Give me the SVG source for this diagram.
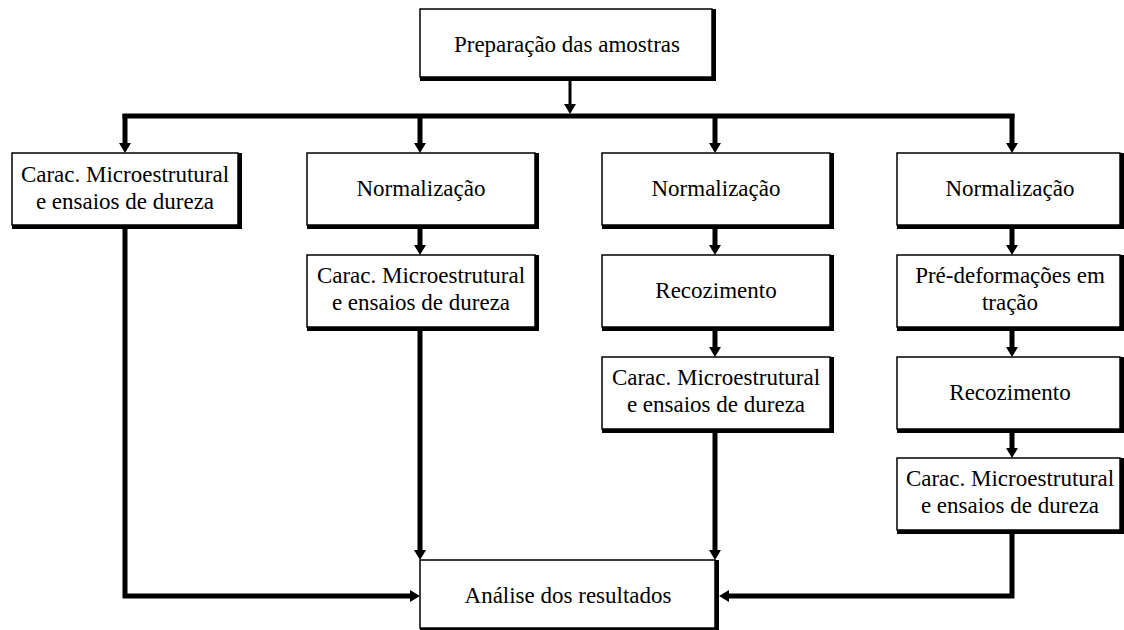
<svg xmlns="http://www.w3.org/2000/svg" width="1124" height="630" viewBox="0 0 1124 630">
<style>
.sh{fill:#000}
.bx{fill:#fff;stroke:#000;stroke-width:1.5}
.t{font-family:"Liberation Serif","Times New Roman",serif;font-size:23px;fill:#000;text-anchor:middle}
.c{fill:none;stroke:#000;stroke-width:5}
.c3{fill:none;stroke:#000;stroke-width:3}
</style>
<defs>
<marker id="ah" markerUnits="userSpaceOnUse" viewBox="0 0 10 12" markerWidth="10" markerHeight="12" refX="0" refY="6" orient="auto">
<path d="M0,0 L10,6 L0,12 Z" fill="#000"/>
</marker>
</defs>
<rect width="1124" height="630" fill="#fff"/>
<g id="connectors">
<path class="c3" d="M570,80 V104" marker-end="url(#ah)"/>
<path class="c" d="M122.5,116 H1014.5"/>
<path class="c" d="M125,114 V143" marker-end="url(#ah)"/>
<path class="c" d="M420,114 V143" marker-end="url(#ah)"/>
<path class="c" d="M715,114 V143" marker-end="url(#ah)"/>
<path class="c" d="M1012,114 V143" marker-end="url(#ah)"/>
<path class="c" d="M420,228 V245" marker-end="url(#ah)"/>
<path class="c" d="M715,228 V245" marker-end="url(#ah)"/>
<path class="c" d="M1012,228 V245" marker-end="url(#ah)"/>
<path class="c" d="M715,330 V347" marker-end="url(#ah)"/>
<path class="c" d="M1012,330 V347" marker-end="url(#ah)"/>
<path class="c" d="M1012,432 V448" marker-end="url(#ah)"/>
<path class="c" d="M420,330 V550" marker-end="url(#ah)"/>
<path class="c" d="M715,432 V550" marker-end="url(#ah)"/>
<path class="c" d="M125,228 V596 H410" marker-end="url(#ah)"/>
<path class="c" d="M1012,533 V596 H729" marker-end="url(#ah)"/>
</g>
<g id="n0">
<rect class="sh" x="420" y="9" width="296" height="72"/>
<rect class="bx" x="420" y="9" width="292" height="68"/>
<text class="t" x="567" y="52">Preparação das amostras</text>
</g>
<g id="n1">
<rect class="sh" x="12" y="153" width="230" height="76"/>
<rect class="bx" x="12" y="153" width="226" height="72"/>
<text class="t" x="125" y="182">Carac. Microestrutural</text>
<text class="t" x="125" y="209">e ensaios de dureza</text>
</g>
<g id="n2">
<rect class="sh" x="307" y="153" width="232" height="76"/>
<rect class="bx" x="307" y="153" width="228" height="72"/>
<text class="t" x="421" y="196">Normalização</text>
</g>
<g id="n3">
<rect class="sh" x="307" y="255" width="232" height="76"/>
<rect class="bx" x="307" y="255" width="228" height="72"/>
<text class="t" x="421" y="283">Carac. Microestrutural</text>
<text class="t" x="421" y="310">e ensaios de dureza</text>
</g>
<g id="n4">
<rect class="sh" x="602" y="153" width="232" height="76"/>
<rect class="bx" x="602" y="153" width="228" height="72"/>
<text class="t" x="716" y="196">Normalização</text>
</g>
<g id="n5">
<rect class="sh" x="602" y="255" width="232" height="76"/>
<rect class="bx" x="602" y="255" width="228" height="72"/>
<text class="t" x="716" y="298">Recozimento</text>
</g>
<g id="n6">
<rect class="sh" x="602" y="357" width="232" height="76"/>
<rect class="bx" x="602" y="357" width="228" height="72"/>
<text class="t" x="716" y="385">Carac. Microestrutural</text>
<text class="t" x="716" y="412">e ensaios de dureza</text>
</g>
<g id="n7">
<rect class="sh" x="897" y="153" width="227" height="76"/>
<rect class="bx" x="897" y="153" width="223" height="72"/>
<text class="t" x="1010" y="196">Normalização</text>
</g>
<g id="n8">
<rect class="sh" x="897" y="255" width="227" height="76"/>
<rect class="bx" x="897" y="255" width="223" height="72"/>
<text class="t" x="1010" y="283">Pré-deformações em</text>
<text class="t" x="1010" y="310">tração</text>
</g>
<g id="n9">
<rect class="sh" x="897" y="357" width="227" height="76"/>
<rect class="bx" x="897" y="357" width="223" height="72"/>
<text class="t" x="1010" y="400">Recozimento</text>
</g>
<g id="n10">
<rect class="sh" x="897" y="458" width="227" height="76"/>
<rect class="bx" x="897" y="458" width="223" height="72"/>
<text class="t" x="1010" y="486">Carac. Microestrutural</text>
<text class="t" x="1010" y="513">e ensaios de dureza</text>
</g>
<g id="n11">
<rect class="sh" x="420" y="560" width="299" height="72"/>
<rect class="bx" x="420" y="560" width="295" height="68"/>
<text class="t" x="568" y="603">Análise dos resultados</text>
</g>
</svg>
